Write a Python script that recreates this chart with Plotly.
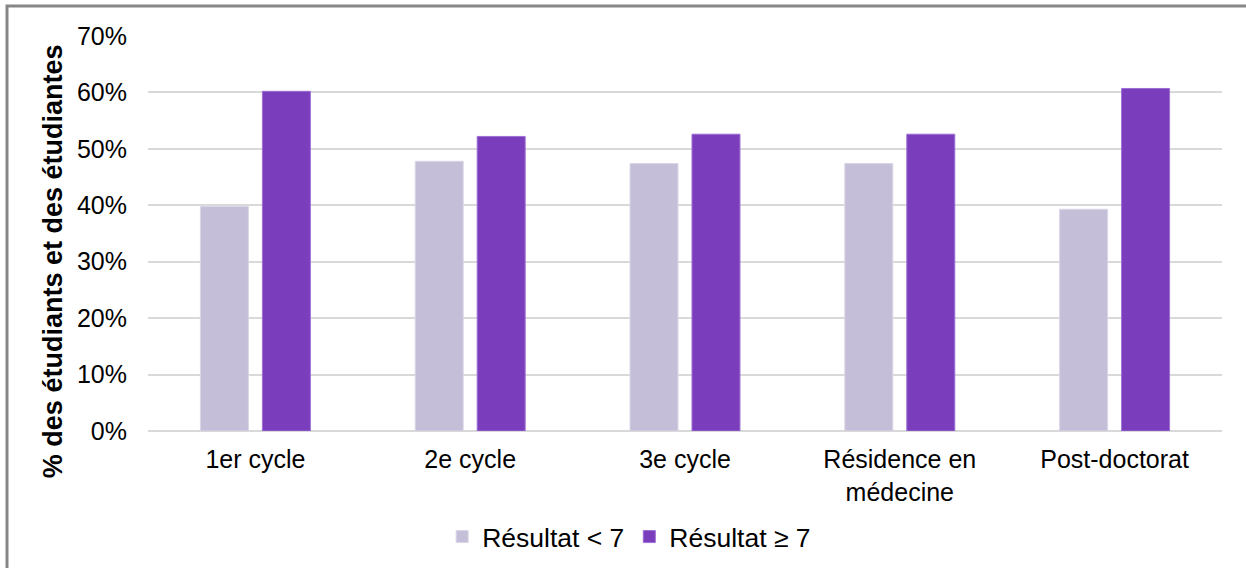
import plotly.graph_objects as go

categories = ["1er cycle", "2e cycle", "3e cycle", "Résidence en<br>médecine", "Post-doctorat"]
series_low_name = "Résultat < 7"
series_high_name = "Résultat ≥ 7"
values_low = [0.398, 0.478, 0.474, 0.474, 0.393]
values_high = [0.602, 0.522, 0.526, 0.526, 0.607]
y_tick_values = [0, 0.1, 0.2, 0.3, 0.4, 0.5, 0.6, 0.7]
y_title = "% des étudiants et des étudiantes"

FONT = "Liberation Sans, Arial, Helvetica, sans-serif"

fig = go.Figure()
fig.add_trace(go.Bar(x=categories, y=values_low, name=series_low_name,
                     marker=dict(color="#C5BED8", line=dict(color="#DAD5E6", width=1))))
fig.add_trace(go.Bar(x=categories, y=values_high, name=series_high_name,
                     marker=dict(color="#7A3DBB", line=dict(color="#9D6FD4", width=1))))

W, H = 1246, 568
ml, mr, mt, mb = 148, 24, 36, 137
pw, ph = W - ml - mr, H - mt - mb

fig.update_layout(
    width=W, height=H,
    margin=dict(l=ml, r=mr, t=mt, b=mb, autoexpand=False),
    paper_bgcolor="white", plot_bgcolor="white",
    font=dict(family=FONT, size=25, color="black"),
    barmode="group", bargap=0.423, bargroupgap=0.226,
    showlegend=True,
    legend=dict(orientation="h", x=0.448, xanchor="center", y=-0.268, yanchor="middle",
                font=dict(size=26.5), itemwidth=30, traceorder="normal"),
    xaxis=dict(showgrid=False, showline=False, ticks="", tickfont=dict(size=25),
               ticklabelstandoff=11, automargin=False),
    yaxis=dict(range=[0, 0.7], tickvals=y_tick_values, tickformat=".0%",
               showgrid=True, gridcolor="#D9D9D9", gridwidth=2, zeroline=True,
               zerolinecolor="#D9D9D9", zerolinewidth=2, showline=False, ticks="",
               ticklen=0, tickfont=dict(size=25), ticklabelstandoff=20, automargin=False),
)

fig.add_annotation(text="<b>" + y_title + "</b>", xref="paper", yref="paper",
                   x=(53 - ml) / pw, y=0.43, xanchor="center", yanchor="middle",
                   textangle=-90, showarrow=False, font=dict(size=27, color="black"))

# outer frame
x0 = (7 - ml) / pw
y1 = 1 + (mt - 6) / ph
fig.add_shape(type="rect", xref="paper", yref="paper", x0=x0, x1=1 + (mr + 20) / pw,
              y0=-(mb + 20) / ph, y1=y1, line=dict(color="#878787", width=3), layer="below")

fig.write_html("out.html", config={"displayModeBar": False},
               post_script="document.body.style.margin='0';document.body.style.overflow='hidden';")
